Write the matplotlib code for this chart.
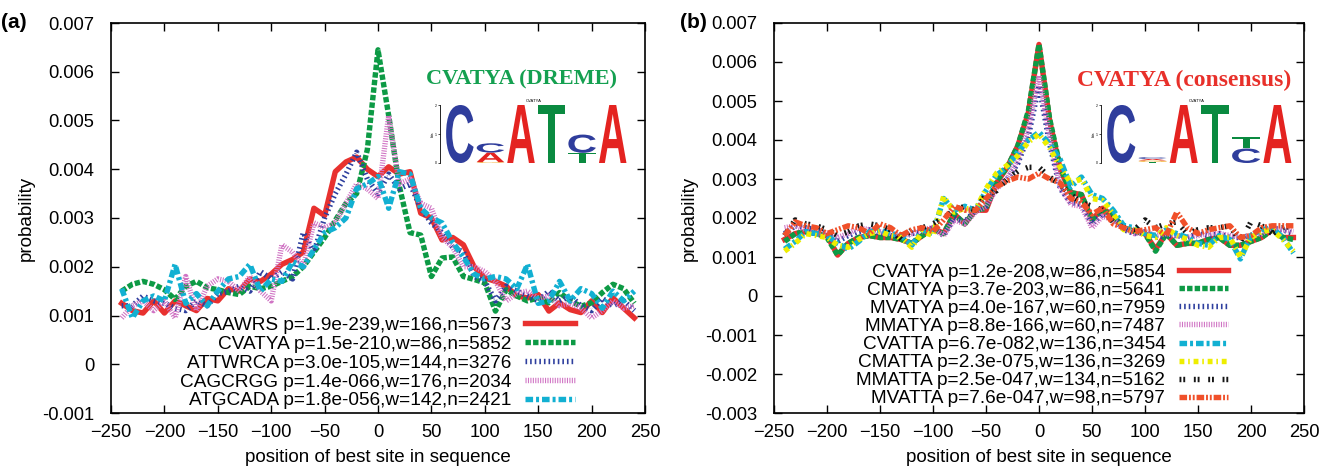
import numpy as np
import matplotlib
matplotlib.use("Agg")
import matplotlib.pyplot as plt
from matplotlib.textpath import TextPath
from matplotlib.patches import PathPatch
from matplotlib.transforms import Affine2D
from matplotlib.font_manager import FontProperties

plt.rcParams['font.family'] = ['Liberation Sans', 'DejaVu Sans']

# ---------------- data ----------------
positions = list(range(-240, 241, 10))

# panel (a)
a_labels = ["ACAAWRS p=1.9e-239,w=166,n=5673",
            "CVATYA p=1.5e-210,w=86,n=5852",
            "ATTWRCA p=3.0e-105,w=144,n=3276",
            "CAGCRGG p=1.4e-066,w=176,n=2034",
            "ATGCADA p=1.8e-056,w=142,n=2421"]
a_acaawrs = [1.25, 1.1, 1.05, 1.3, 1.05, 1.3, 1.2, 1.1, 1.35, 1.3, 1.55, 1.5, 1.75, 1.7, 1.85, 2.05, 2.15, 2.3,
             3.2, 3.05, 3.95, 4.15, 4.25, 4.0, 3.85, 4.05, 3.9, 3.95, 3.1, 3.0, 2.55, 2.6, 2.45, 2.0, 1.77, 1.7,
             1.6, 1.4, 1.36, 1.43, 1.09, 1.26, 1.12, 1.06, 1.3, 1.06, 1.36, 1.15, 0.95]
a_cvatya = [1.5, 1.64, 1.7, 1.64, 1.53, 1.33, 1.6, 1.7, 1.57, 1.53, 1.47, 1.43, 1.6, 1.55, 1.6, 1.7, 1.8, 2.0,
            2.3, 2.6, 2.95, 3.3, 3.5, 4.4, 6.45, 5.1, 3.65, 2.7, 2.65, 1.8, 2.18, 2.2, 1.8, 1.74, 1.67, 1.09,
            1.53, 1.4, 1.3, 1.36, 1.26, 1.47, 1.3, 1.19, 1.26, 1.47, 1.64, 1.55, 1.25]
a_attwrca = [1.2, 1.2, 1.4, 1.3, 1.25, 1.15, 1.1, 1.3, 1.2, 1.45, 1.5, 1.6, 1.5, 1.9, 1.75, 1.9, 1.75, 2.7,
             2.3, 3.0, 3.5, 3.9, 4.35, 3.8, 3.5, 3.9, 3.6, 3.7, 3.2, 2.9, 2.7, 2.4, 2.3, 1.8, 1.7, 1.3,
             1.6, 1.5, 1.4, 1.3, 1.5, 1.3, 1.4, 1.2, 1.1, 1.35, 1.2, 1.3, 1.1]
a_cagcrgg = [0.95, 1.2, 1.3, 1.1, 1.3, 0.95, 1.8, 1.1, 1.6, 1.75, 1.7, 1.5, 1.8, 1.5, 1.3, 2.45, 2.3, 2.0,
             2.9, 2.8, 2.9, 3.3, 3.7, 3.6, 3.4, 5.1, 3.7, 3.8, 3.3, 3.2, 2.6, 2.4, 2.0, 2.0, 1.9, 1.7,
             1.3, 1.45, 1.5, 1.35, 1.4, 1.2, 1.25, 1.15, 0.95, 1.1, 1.3, 1.15, 1.2]
a_atgcada = [1.55, 0.95, 1.3, 1.4, 1.3, 2.05, 1.25, 1.45, 1.2, 1.5, 1.75, 1.8, 2.05, 1.5, 1.75, 1.7, 2.1, 2.0,
             2.35, 2.7, 2.8, 3.0, 3.6, 3.7, 3.85, 3.2, 3.95, 3.9, 3.2, 3.0, 2.9, 2.5, 2.2, 1.85, 1.75, 1.8,
             1.75, 1.55, 2.05, 1.25, 1.3, 1.7, 1.3, 1.55, 1.45, 1.15, 1.5, 1.3, 1.5]

# panel (b)
b_labels = ["CVATYA p=1.2e-208,w=86,n=5854",
            "CMATYA p=3.7e-203,w=86,n=5641",
            "MVATYA p=4.0e-167,w=60,n=7959",
            "MMATYA p=8.8e-166,w=60,n=7487",
            "CVATTA p=6.7e-082,w=136,n=3454",
            "CMATTA p=2.3e-075,w=136,n=3269",
            "MMATTA p=2.5e-047,w=134,n=5162",
            "MVATTA p=7.6e-047,w=98,n=5797"]
b_cvatya = [1.45, 1.6, 1.65, 1.6, 1.55, 1.05, 1.35, 1.5, 1.55, 1.5, 1.5, 1.45, 1.35, 1.55, 1.75, 1.6, 2.1, 1.85,
            2.2, 2.2, 2.9, 3.3, 3.85, 4.7, 6.45, 4.5, 3.25, 2.65, 2.6, 1.95, 2.25, 2.05, 1.75, 1.65, 1.6, 1.2,
            1.6, 1.3, 1.35, 1.35, 1.45, 1.5, 1.3, 1.3, 1.4, 1.5, 1.7, 1.5, 1.5]
b_cmatya = [1.4, 1.6, 1.65, 1.6, 1.5, 1.05, 1.35, 1.5, 1.55, 1.5, 1.5, 1.45, 1.35, 1.55, 1.7, 1.6, 2.1, 1.85,
            2.2, 2.25, 2.95, 3.3, 3.85, 4.75, 6.45, 4.55, 3.3, 2.65, 2.6, 1.95, 2.2, 2.05, 1.75, 1.65, 1.6, 1.15,
            1.6, 1.3, 1.35, 1.35, 1.45, 1.5, 1.3, 1.3, 1.4, 1.5, 1.7, 1.5, 1.45]
b_mvatya = [1.6, 1.8, 1.75, 1.7, 1.6, 1.4, 1.55, 1.65, 1.7, 1.6, 1.55, 1.5, 1.6, 1.65, 1.75, 1.55, 2.0, 1.9,
            2.2, 2.3, 2.8, 3.0, 3.4, 4.1, 5.4, 3.9, 2.75, 2.4, 2.35, 1.85, 2.1, 2.0, 1.7, 1.6, 1.65, 1.5,
            1.55, 1.55, 1.5, 1.6, 1.55, 1.6, 1.5, 1.5, 1.55, 1.6, 1.75, 1.7, 1.6]
b_mmatya = [1.75, 1.8, 1.7, 1.6, 1.6, 1.5, 1.6, 1.75, 1.7, 1.65, 1.6, 1.55, 1.6, 1.7, 1.75, 1.55, 1.95, 1.85,
            2.15, 2.3, 2.75, 3.0, 3.5, 4.3, 5.65, 4.1, 2.8, 2.35, 2.3, 1.75, 2.05, 1.95, 1.75, 1.6, 1.65, 1.55,
            1.6, 1.55, 1.5, 1.55, 1.6, 1.6, 1.55, 1.5, 1.55, 1.6, 1.75, 1.7, 1.65]
b_cvatta = [1.2, 1.4, 1.65, 1.6, 1.55, 1.35, 1.2, 1.4, 1.65, 1.7, 1.6, 1.55, 1.3, 1.7, 1.6, 2.5, 2.2, 2.3,
            2.2, 2.7, 3.1, 3.3, 3.7, 4.0, 4.2, 3.9, 3.5, 2.8, 3.05, 2.6, 2.5, 2.2, 1.8, 1.75, 1.6, 1.55,
            1.7, 1.6, 1.5, 1.35, 1.3, 1.55, 1.45, 0.95, 1.55, 1.7, 1.75, 1.5, 1.1]
b_cmatta = [1.15, 1.35, 1.6, 1.55, 1.5, 1.3, 1.25, 1.45, 1.6, 1.65, 1.55, 1.5, 1.25, 1.65, 1.55, 2.55, 2.15, 2.25,
            2.2, 2.75, 3.15, 3.35, 3.6, 3.95, 4.15, 3.8, 3.3, 2.9, 3.0, 2.5, 2.45, 2.1, 1.7, 1.7, 1.55, 1.5,
            1.75, 1.55, 1.45, 1.3, 1.25, 1.5, 1.5, 1.0, 1.5, 1.65, 1.7, 1.45, 1.15]
b_mmatta = [1.55, 1.95, 1.85, 1.8, 1.7, 1.55, 1.65, 1.8, 1.85, 1.8, 1.7, 1.45, 1.7, 1.75, 1.85, 2.0, 2.2, 2.3,
            2.2, 2.6, 2.7, 3.0, 3.2, 3.3, 3.3, 3.05, 2.85, 2.6, 2.4, 2.3, 2.2, 1.9, 1.75, 1.7, 1.95, 1.75,
            1.85, 1.9, 1.6, 1.7, 1.75, 1.75, 1.8, 1.4, 1.9, 1.8, 1.6, 1.75, 1.8]
b_mvatta = [1.55, 1.9, 1.8, 1.75, 1.6, 1.7, 1.8, 1.75, 1.6, 1.85, 1.75, 1.55, 1.7, 1.75, 1.65, 1.95, 2.3, 2.2,
            2.2, 2.5, 2.8, 2.95, 3.05, 3.0, 3.15, 3.0, 2.9, 2.5, 2.4, 2.1, 2.25, 1.85, 1.75, 1.65, 1.7, 1.75,
            1.55, 2.15, 1.75, 1.6, 1.7, 1.75, 1.8, 1.5, 1.55, 1.75, 1.8, 1.8, 1.8]

# sequence logos: letters stacked bottom->top with heights (bits)
logo_a_letters = [["C"], ["G", "A", "C"], ["A"], ["T"], ["T", "C"], ["A"]]
logo_a_heights = [[2.0], [0.03, 0.33, 0.32], [2.0], [2.0], [0.35, 0.63], [2.0]]
logo_b_letters = [["C"], ["T", "G", "A", "C"], ["A"], ["T"], ["C", "T"], ["A"]]
logo_b_heights = [[2.0], [0.04, 0.05, 0.05, 0.06], [2.0], [2.0], [0.5, 0.4], [2.0]]

# ---------------- styles ----------------
RED = '#e8312f'; GREEN = '#0d9a45'; BLUE = '#2e3f9e'; MAG = '#d074c4'
CYAN = '#12b0d2'; YEL = '#eeee00'; BLK = '#151515'; ORG = '#f0502a'
LW = 3.9
a_styles = [(RED, '-'), (GREEN, (0, (1.0, 0.4))), (BLUE, (0, (0.3, 0.55))),
            (MAG, (0, (0.2, 0.25))), (CYAN, (0, (1.4, 0.55, 0.55, 0.55)))]
b_styles = [(RED, '-'), (GREEN, (0, (1.0, 0.4))), (BLUE, (0, (0.3, 0.55))),
            (MAG, (0, (0.2, 0.25))), (CYAN, (0, (1.4, 0.55, 0.55, 0.55))),
            (YEL, (0, (0.9, 0.7, 0.3, 0.7))), (BLK, (0, (0.35, 0.35, 0.35, 1.6))),
            (ORG, (0, (1.4, 0.35, 0.35, 0.35, 0.35, 0.35)))]
LOGO_COL = {'A': '#e42320', 'C': '#2f3d9c', 'G': '#f2a818', 'T': '#0a8a40'}

fig = plt.figure(figsize=(13.3, 4.73), dpi=100)
ax_a = fig.add_axes([111/1330, 60/473, 534/1330, 390/473])
ax_b = fig.add_axes([774/1330, 60/473, 530/1330, 390/473])

letter_fp = FontProperties(family='Liberation Sans', weight='bold')


def draw_letter(ax, letter, x, y, w, h, color):
    tp = TextPath((0, 0), letter, size=1, prop=letter_fp)
    bb = tp.get_extents()
    t = Affine2D().translate(-bb.x0, -bb.y0).scale(w * 0.9 / bb.width, h / bb.height).translate(x + 0.05 * w, y)
    ax.add_patch(PathPatch(t.transform_path(tp), facecolor=color, edgecolor='none'))


def draw_logo(rect, letters, heights):
    lax = fig.add_axes(rect)
    for i, (ls, hs) in enumerate(zip(letters, heights)):
        y = 0.0
        for L, h in zip(ls, hs):
            draw_letter(lax, L, i, y, 1.0, h, LOGO_COL[L])
            y += h
    lax.set_xlim(-0.15, len(letters))
    lax.set_ylim(0, 2.0)
    for s in ['top', 'right', 'bottom']:
        lax.spines[s].set_visible(False)
    lax.spines['left'].set_linewidth(0.6)
    lax.set_xticks([])
    lax.set_yticks([0, 1, 2])
    lax.set_yticklabels(['0', '1', '2'], fontsize=2.5)
    lax.tick_params(axis='y', length=1.5, width=0.5, pad=0.5)
    lax.set_ylabel('bits', fontsize=2.5, labelpad=0.5)
    lax.set_title('CVATYA', fontsize=3, pad=2)
    lax.patch.set_alpha(0)
    return lax


def style_axes(ax, ylim, yticks):
    ax.set_xlim(-250, 250)
    ax.set_ylim(*ylim)
    ax.set_xticks(range(-250, 251, 50))
    ax.set_yticks(yticks)
    ax.set_yticklabels(['0' if abs(v) < 1e-12 else f'{v:.3f}' for v in yticks])
    ax.tick_params(direction='in', top=True, right=True, length=6, width=1.0, labelsize=13.2)
    ax.tick_params(axis='y', pad=12)
    ax.tick_params(axis='x', pad=8)
    for s in ax.spines.values():
        s.set_linewidth(1.2)
    ax.set_xlabel('position of best site in sequence', fontsize=13.5, labelpad=6)
    ax.set_ylabel('probability', fontsize=13.5, labelpad=5)


# panel (a)
a_series = [a_acaawrs, a_cvatya, a_attwrca, a_cagcrgg, a_atgcada]
for vals, lab, (c, ls) in zip(a_series, a_labels, a_styles):
    ax_a.plot(positions, np.array(vals) * 1e-3, color=c, linestyle=ls, lw=LW, label=lab)
style_axes(ax_a, (-0.001, 0.007), np.arange(-0.001, 0.0071, 0.001))
ax_a.legend(loc='lower right', bbox_to_anchor=(0.893, -0.025), frameon=False, markerfirst=False,
            fontsize=13.7, handlelength=2.6, handletextpad=0.7, labelspacing=0.08, borderpad=0.2)
fig.text(0.001, 1 - 22/473, '(a)', fontsize=15, fontweight='bold', ha='left', va='center')
fig.text(522/1330, 1 - 79/473, 'CVATYA (DREME)', fontsize=16, fontweight='bold',
         family='Liberation Serif', color='#14a050', ha='center', va='center')
draw_logo([440/1330, 1 - 163/473, 188/1330, 58/473], logo_a_letters, logo_a_heights)

# panel (b)
b_series = [b_cvatya, b_cmatya, b_mvatya, b_mmatya, b_cvatta, b_cmatta, b_mmatta, b_mvatta]
for vals, lab, (c, ls) in zip(b_series, b_labels, b_styles):
    ax_b.plot(positions, np.array(vals) * 1e-3, color=c, linestyle=ls, lw=LW, label=lab)
style_axes(ax_b, (-0.003, 0.007), np.arange(-0.003, 0.0071, 0.001))
ax_b.legend(loc='lower right', bbox_to_anchor=(0.882, -0.02), frameon=False, markerfirst=False,
            fontsize=13.7, handlelength=2.6, handletextpad=0.7, labelspacing=0.04, borderpad=0.2)
fig.text(680/1330, 1 - 22/473, '(b)', fontsize=15, fontweight='bold', ha='left', va='center')
fig.text(1184/1330, 1 - 80/473, 'CVATYA (consensus)', fontsize=17, fontweight='bold',
         family='Liberation Serif', color='#e8302a', ha='center', va='center')
draw_logo([1101/1330, 1 - 163/473, 192/1330, 58/473], logo_b_letters, logo_b_heights)

fig.savefig('out.png', dpi=100)
